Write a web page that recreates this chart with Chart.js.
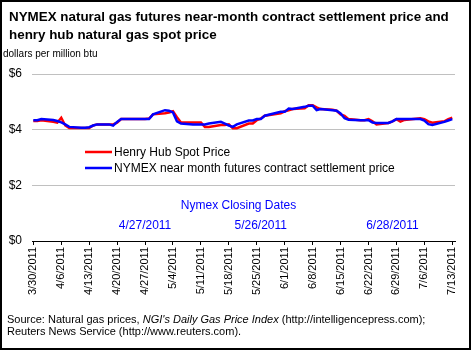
<!DOCTYPE html>
<html>
<head>
<meta charset="utf-8">
<script src="https://cdn.jsdelivr.net/npm/chart.js@4"></script>
<style>
  html, body { margin: 0; padding: 0; background: #fff; }
  #wrap { position: relative; width: 471px; height: 350px; }
</style>
</head>
<body>
<div id="wrap"><canvas id="gasChart" width="471" height="350"></canvas></div>
<script>
// === ДАННЫЕ ===
const tradeDates = [
  '3/30','3/31','4/1',
  '4/4','4/5','4/6','4/7','4/8',
  '4/11','4/12','4/13','4/14','4/15',
  '4/18','4/19','4/20','4/21',
  '4/25','4/26','4/27','4/28','4/29',
  '5/2','5/3','5/4','5/5','5/6',
  '5/9','5/10','5/11','5/12','5/13',
  '5/16','5/17','5/18','5/19','5/20',
  '5/23','5/24','5/25','5/26','5/27',
  '5/31','6/1','6/2','6/3',
  '6/6','6/7','6/8','6/9','6/10',
  '6/13','6/14','6/15','6/16','6/17',
  '6/20','6/21','6/22','6/23','6/24',
  '6/27','6/28','6/29','6/30','7/1',
  '7/5','7/6','7/7','7/8',
  '7/11','7/12','7/13'
];

const henryHub = [
  4.31, 4.31, 4.34,
  4.28, 4.25, 4.43, 4.15, 4.06,
  4.06, 4.06, 4.06, 4.15, 4.19,
  4.19, 4.19, 4.25, 4.38,
  4.38, 4.38, 4.38, 4.40, 4.55,
  4.59, 4.62, 4.66, 4.45, 4.26,
  4.26, 4.26, 4.26, 4.10, 4.10,
  4.17, 4.17, 4.19, 4.05, 4.05,
  4.22, 4.22, 4.34, 4.40, 4.50,
  4.59, 4.66, 4.70, 4.74,
  4.77, 4.88, 4.88, 4.80, 4.74,
  4.72, 4.68, 4.55, 4.50, 4.38,
  4.34, 4.34, 4.38, 4.30, 4.19,
  4.24, 4.30, 4.38, 4.29, 4.35,
  4.41, 4.38, 4.30, 4.25,
  4.30, 4.38, 4.43
];

const nymex = [
  4.34, 4.34, 4.38,
  4.35, 4.31, 4.26, 4.19, 4.10,
  4.07, 4.07, 4.09, 4.15, 4.19,
  4.19, 4.15, 4.28, 4.38,
  4.38, 4.38, 4.38, 4.38, 4.55,
  4.70, 4.68, 4.62, 4.30, 4.22,
  4.19, 4.19, 4.19, 4.19, 4.22,
  4.28, 4.22, 4.15, 4.10, 4.19,
  4.33, 4.33, 4.38, 4.38, 4.50,
  4.64, 4.64, 4.76, 4.74,
  4.82, 4.86, 4.86, 4.70, 4.74,
  4.70, 4.68, 4.58, 4.41, 4.36,
  4.34, 4.34, 4.34, 4.26, 4.24,
  4.24, 4.30, 4.38, 4.38, 4.38,
  4.38, 4.33, 4.20, 4.17,
  4.28, 4.33, 4.38
];

const xTickLabels = [
  '3/30/2011','4/6/2011','4/13/2011','4/20/2011','4/27/2011','5/4/2011',
  '5/11/2011','5/18/2011','5/25/2011','6/1/2011','6/8/2011','6/15/2011',
  '6/22/2011','6/29/2011','7/6/2011','7/13/2011'
];
const yTickValues = [0, 2, 4, 6];
const closingDates = ['4/27/2011', '5/26/2011', '6/28/2011'];

const FONT = '"Liberation Sans", Arial, sans-serif';

// день от 3/30/2011
function dayNum(str) {
  const p = str.split('/').map(Number);
  return (Date.UTC(2011, p[0] - 1, p[1]) - Date.UTC(2011, 2, 30)) / 86400000;
}

const henryPts = tradeDates.map((d, i) => ({ x: dayNum(d), y: henryHub[i] }));
const nymexPts = tradeDates.map((d, i) => ({ x: dayNum(d), y: nymex[i] }));
const tickPos = xTickLabels.map(dayNum);

// === ТЕКСТЫ, ЛЕГЕНДА, РАМКА ===
const decorPlugin = {
  id: 'decor',
  afterDraw(chart) {
    const c = chart.ctx;
    const xs = chart.scales.x;
    c.save();

    // заголовок
    c.fillStyle = '#000';
    c.textAlign = 'left';
    c.textBaseline = 'alphabetic';
    c.font = 'bold 13.4px ' + FONT;
    c.fillText('NYMEX natural gas futures near-month contract settlement price and', 9, 21);
    c.fillText('henry hub natural gas spot price', 9, 39);
    c.font = '10px ' + FONT;
    c.fillText('dollars per million btu', 3, 57);

    // легенда
    const legend = [
      { color: '#ff0000', text: 'Henry Hub Spot Price', y: 152 },
      { color: '#0000ff', text: 'NYMEX near month futures contract settlement price', y: 168 }
    ];
    c.font = '12px ' + FONT;
    c.textBaseline = 'middle';
    legend.forEach(item => {
      c.strokeStyle = item.color;
      c.lineWidth = 2.5;
      c.beginPath();
      c.moveTo(85, item.y);
      c.lineTo(112, item.y);
      c.stroke();
      c.fillStyle = '#000';
      c.fillText(item.text, 114, item.y + 0.5);
    });

    // даты закрытия Nymex
    c.fillStyle = '#0000ff';
    c.textAlign = 'center';
    c.fillText('Nymex Closing Dates', 238.5, 206);
    closingDates.forEach(d => {
      c.fillText(d, xs.getPixelForValue(dayNum(d)), 226);
    });

    // источник
    c.fillStyle = '#000';
    c.textAlign = 'left';
    c.textBaseline = 'alphabetic';
    const parts = [
      ['11px ', 'Source: Natural gas prices, '],
      ['italic 11px ', "NGI's Daily Gas Price Index"],
      ['11px ', ' (http://intelligencepress.com);']
    ];
    let px = 7;
    parts.forEach(p => {
      c.font = p[0] + FONT;
      c.fillText(p[1], px, 323);
      px += c.measureText(p[1]).width;
    });
    c.font = '11px ' + FONT;
    c.fillText('Reuters News Service (http://www.reuters.com).', 7, 335);

    // рамка
    c.strokeStyle = '#000';
    c.lineWidth = 2;
    c.strokeRect(1, 1, 469, 348);
    c.restore();
  }
};

// === ГРАФИК ===
new Chart(document.getElementById('gasChart'), {
  type: 'line',
  data: {
    datasets: [
      {
        label: 'Henry Hub Spot Price',
        data: henryPts,
        borderColor: '#ff0000',
        borderWidth: 2.5,
        pointRadius: 0,
        tension: 0,
        order: 1
      },
      {
        label: 'NYMEX near month futures contract settlement price',
        data: nymexPts,
        borderColor: '#0000ff',
        borderWidth: 2.5,
        pointRadius: 0,
        tension: 0,
        order: 0
      }
    ]
  },
  options: {
    responsive: false,
    animation: false,
    devicePixelRatio: 1,
    layout: { padding: { top: 74, right: 16, left: 0, bottom: 0 } },
    plugins: {
      legend: { display: false },
      title: { display: false },
      tooltip: { enabled: false }
    },
    scales: {
      x: {
        type: 'linear',
        min: -0.33,
        max: 105.68,
        afterBuildTicks: s => { s.ticks = tickPos.map(v => ({ value: v })); },
        afterFit: s => { s.height = 109; },
        border: { display: true, color: '#000', width: 1 },
        grid: { drawOnChartArea: false, drawTicks: true, tickLength: 4, color: '#000' },
        ticks: {
          autoSkip: false,
          minRotation: 90,
          maxRotation: 90,
          padding: 2,
          color: '#000',
          font: { family: FONT, size: 11 },
          callback: v => xTickLabels[tickPos.indexOf(v)] || ''
        }
      },
      y: {
        min: 0,
        max: 6,
        afterBuildTicks: s => { s.ticks = yTickValues.map(v => ({ value: v })); },
        afterFit: s => { s.width = 32; },
        border: { display: false },
        grid: {
          drawTicks: false,
          color: ctx => (ctx.tick && ctx.tick.value === 0) ? 'rgba(0,0,0,0)' : '#c0c0c0'
        },
        ticks: {
          padding: 10,
          color: '#000',
          font: { family: FONT, size: 12 },
          callback: v => '$' + v
        }
      }
    }
  },
  plugins: [decorPlugin]
});
</script>
</body>
</html>
